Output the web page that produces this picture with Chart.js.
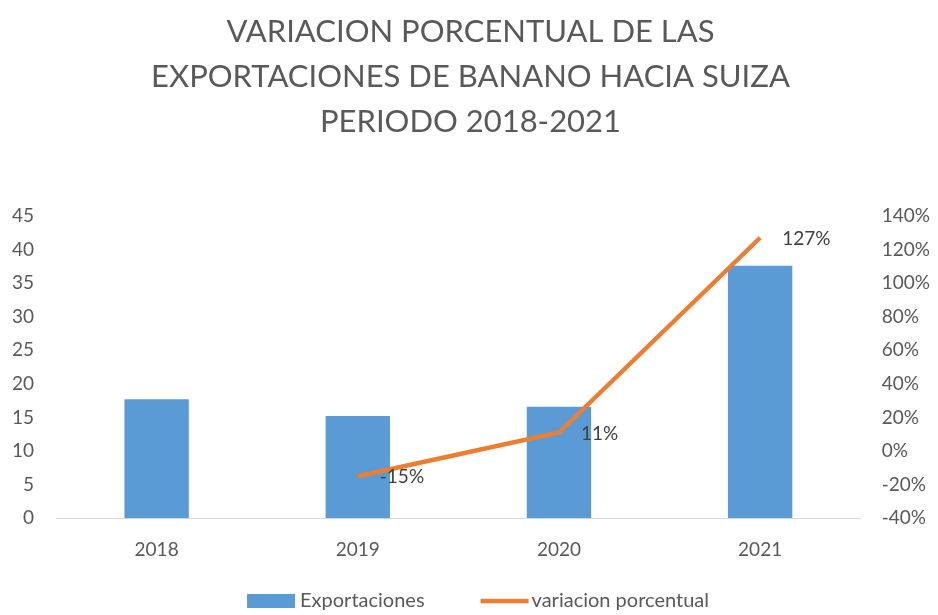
<!DOCTYPE html>
<html>
<head>
<meta charset="utf-8">
<script src="https://cdn.jsdelivr.net/npm/chart.js@4"></script>
<style>
  html, body { margin: 0; padding: 0; background: #fff; }
  #wrap { width: 938px; height: 615px; }
</style>
</head>
<body>
<div id="wrap"><canvas id="chart" width="938" height="615"></canvas></div>
<script>
// datos
const years = ["2018", "2019", "2020", "2021"];
const exportaciones = [17.7, 15.2, 16.6, 37.6];
const variacion = [null, -0.15, 0.11, 1.27];
const variacionLabels = [null, "-15%", "11%", "127%"];
const titleLines = ["VARIACION PORCENTUAL DE LAS", "EXPORTACIONES DE BANANO HACIA SUIZA", "PERIODO 2018-2021"];

const FONT = "Lato";
const GRAY = "#595959";

// etiquetas de la linea, a la derecha de cada punto
const pointLabels = {
    id: "pointLabels",
    afterDatasetsDraw(chart) {
        const ctx = chart.ctx;
        const meta = chart.getDatasetMeta(1);
        ctx.save();
        ctx.font = "19px " + FONT;
        ctx.fillStyle = "#404040";
        ctx.textAlign = "left";
        ctx.textBaseline = "middle";
        meta.data.forEach((pt, i) => {
            if (variacionLabels[i] == null) return;
            ctx.fillText(variacionLabels[i], pt.x + 22, pt.y + 1);
        });
        ctx.restore();
    }
};

// leyenda abajo, estilo excel
const bottomLegend = {
    id: "bottomLegend",
    afterDraw(chart) {
        const ctx = chart.ctx;
        const ds = chart.data.datasets;
        ctx.save();
        ctx.font = "20px " + FONT;
        ctx.textBaseline = "middle";
        const w0 = ctx.measureText(ds[0].label).width;
        const w1 = ctx.measureText(ds[1].label).width;
        const total = 48 + 5 + w0 + 56 + 48 + 3 + w1;
        let x = 478 - total / 2;
        const y = 601;
        ctx.fillStyle = ds[0].backgroundColor;
        ctx.fillRect(x, y - 7, 48, 14);
        x += 53;
        ctx.fillStyle = GRAY;
        ctx.fillText(ds[0].label, x, y);
        x += w0 + 56;
        ctx.strokeStyle = ds[1].borderColor;
        ctx.lineWidth = 4.5;
        ctx.beginPath();
        ctx.moveTo(x, y);
        ctx.lineTo(x + 48, y);
        ctx.stroke();
        x += 51;
        ctx.fillText(ds[1].label, x, y);
        ctx.restore();
    }
};

new Chart(document.getElementById("chart"), {
    data: {
        labels: years,
        datasets: [
            {
                type: "bar",
                label: "Exportaciones",
                data: exportaciones,
                backgroundColor: "#5b9bd5",
                borderWidth: 0,
                barPercentage: 0.32,
                categoryPercentage: 1,
                yAxisID: "y",
                order: 2
            },
            {
                type: "line",
                label: "variacion porcentual",
                data: variacion,
                borderColor: "#ed7d31",
                backgroundColor: "#ed7d31",
                borderWidth: 4.5,
                pointRadius: 0,
                tension: 0,
                yAxisID: "y1",
                order: 1
            }
        ]
    },
    options: {
        responsive: false,
        animation: false,
        layout: { padding: { left: -10, right: -13, top: 10, bottom: 42 } },
        plugins: {
            title: {
                display: true,
                text: titleLines,
                color: GRAY,
                font: { family: FONT, size: 31, weight: "normal", lineHeight: 1.44 },
                padding: { top: 0, bottom: 72 }
            },
            legend: { display: false },
            tooltip: { enabled: false }
        },
        scales: {
            x: {
                grid: { display: false },
                border: { color: "#d9d9d9", width: 1 },
                ticks: { color: GRAY, font: { family: FONT, size: 19 }, padding: 12 }
            },
            y: {
                position: "left",
                min: 0, max: 45,
                grid: { display: false, drawTicks: false },
                border: { display: false },
                ticks: { stepSize: 5, color: GRAY, font: { family: FONT, size: 19 }, padding: 22 }
            },
            y1: {
                position: "right",
                min: -0.4, max: 1.4,
                grid: { display: false, drawTicks: false },
                border: { display: false },
                ticks: {
                    stepSize: 0.2,
                    color: GRAY,
                    font: { family: FONT, size: 19 },
                    padding: 21,
                    callback: v => Math.round(v * 100) + "%"
                }
            }
        }
    },
    plugins: [pointLabels, bottomLegend]
});
</script>
</body>
</html>
